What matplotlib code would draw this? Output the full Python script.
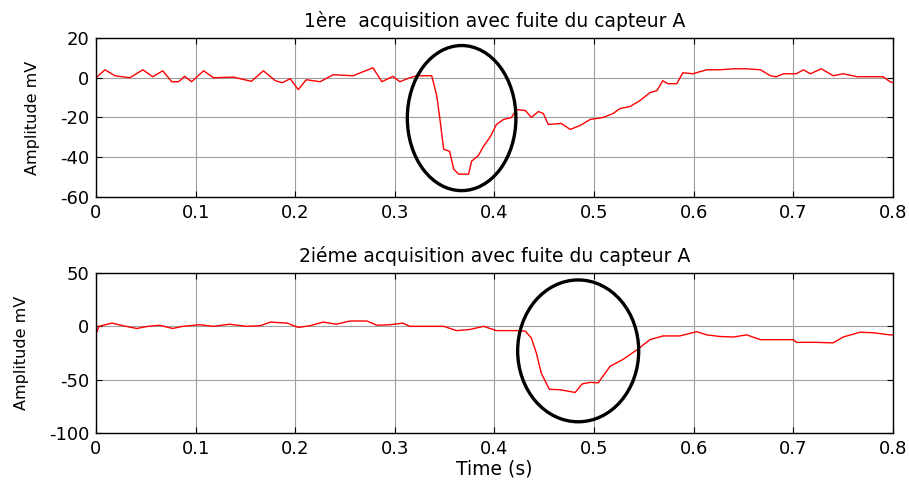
import matplotlib
matplotlib.use("Agg")
import matplotlib.pyplot as plt
from matplotlib.patches import Ellipse

# first acquisition, sensor A (time in s, amplitude in mV)
t1 = [0.000, 0.009, 0.019, 0.034, 0.047, 0.057, 0.067, 0.076, 0.083, 0.089,
      0.096, 0.108, 0.118, 0.138, 0.156, 0.168, 0.180, 0.187, 0.195, 0.203,
      0.211, 0.225, 0.238, 0.258, 0.278, 0.287, 0.298, 0.305, 0.315, 0.322,
      0.337, 0.342, 0.345, 0.349, 0.355, 0.359, 0.364, 0.374, 0.377, 0.384,
      0.389, 0.396, 0.402, 0.409, 0.417, 0.422, 0.431, 0.437, 0.444, 0.449,
      0.454, 0.467, 0.476, 0.486, 0.496, 0.509, 0.519, 0.526, 0.536, 0.546,
      0.556, 0.563, 0.569, 0.574, 0.583, 0.589, 0.599, 0.613, 0.626, 0.640,
      0.653, 0.667, 0.677, 0.683, 0.690, 0.703, 0.710, 0.717, 0.728, 0.740,
      0.750, 0.764, 0.777, 0.790, 0.797, 0.800]
a1 = [0.0, 4.0, 1.0, 0.0, 4.0, 0.5, 3.5, -2.0, -2.0, 0.7,
      -2.0, 3.5, 0.0, 0.3, -1.8, 3.5, -1.5, -2.5, -0.5, -6.0,
      -1.0, -2.0, 1.5, 1.0, 5.0, -2.0, 0.7, -2.0, 0.0, 1.0,
      1.0, -9.0, -20.0, -36.0, -37.0, -46.0, -48.5, -48.5, -42.0, -39.0,
      -34.5, -29.5, -23.5, -21.0, -20.0, -16.0, -16.5, -20.0, -17.0, -18.0,
      -23.5, -23.0, -26.0, -24.0, -21.0, -20.0, -18.0, -15.5, -14.5, -11.5,
      -7.5, -6.5, -1.5, -3.0, -3.0, 2.5, 2.0, 4.0, 4.0, 4.5,
      4.5, 4.0, 1.0, 0.5, 2.0, 2.0, 4.0, 2.0, 4.5, 1.0,
      2.0, 0.5, 0.5, 0.5, -2.0, -2.5]

# second acquisition, sensor A
t2 = [0.000, 0.003, 0.016, 0.027, 0.041, 0.052, 0.064, 0.077, 0.087, 0.104,
      0.118, 0.134, 0.151, 0.165, 0.175, 0.192, 0.203, 0.215, 0.228, 0.241,
      0.255, 0.272, 0.282, 0.295, 0.308, 0.315, 0.349, 0.362, 0.375, 0.389,
      0.402, 0.422, 0.431, 0.437, 0.442, 0.447, 0.455, 0.466, 0.481, 0.488,
      0.496, 0.504, 0.516, 0.529, 0.543, 0.556, 0.569, 0.586, 0.603, 0.613,
      0.626, 0.640, 0.653, 0.667, 0.683, 0.700, 0.703, 0.723, 0.740, 0.750,
      0.767, 0.780, 0.797, 0.800]
a2 = [-7.0, 0.0, 3.0, 0.6, -2.0, 0.0, 1.0, -2.0, 0.0, 1.5,
      0.0, 2.0, 0.0, 0.6, 4.0, 3.0, -1.0, 0.6, 4.0, 2.0,
      5.0, 5.0, 1.0, 1.5, 3.0, 0.0, 0.0, -4.0, -3.0, 0.0,
      -4.0, -4.0, -4.5, -11.0, -25.0, -44.0, -59.0, -59.5, -62.0, -54.0,
      -52.5, -53.0, -37.5, -31.0, -22.0, -12.5, -9.0, -9.0, -5.0, -8.0,
      -9.5, -10.0, -8.0, -12.5, -12.5, -12.5, -15.0, -15.0, -15.5, -10.0,
      -5.5, -6.0, -8.0, -8.0]

titles = ["1ère  acquisition avec fuite du capteur A",
          "2iéme acquisition avec fuite du capteur A"]
yticks = [[-60, -40, -20, 0, 20], [-100, -50, 0, 50]]
ylims = [(-60, 20), (-100, 50)]
xticks = [0, 0.1, 0.2, 0.3, 0.4, 0.5, 0.6, 0.7, 0.8]

# leak zones circled on each record: (t centre, mV centre, width s, height mV)
zones = [(0.367, -20.3, 0.109, 73.0), (0.484, -23.0, 0.1215, 133.0)]

plt.rcParams['font.family'] = ['DejaVu Sans']

fig = plt.figure(figsize=(9.09, 4.87), dpi=100)
ax1 = fig.add_axes([0.1056, 0.5955, 0.8768, 0.3265])
ax2 = fig.add_axes([0.1056, 0.1109, 0.8768, 0.3285])

for ax, t, a, title, yt, yl, zone in zip([ax1, ax2], [t1, t2], [a1, a2],
                                          titles, yticks, ylims, zones):
    ax.plot(t, a, color='#ff0000', lw=1.0)
    ax.set_xlim(0, 0.8)
    ax.set_ylim(*yl)
    ax.set_xticks(xticks)
    ax.set_xticklabels(['0', '0.1', '0.2', '0.3', '0.4', '0.5', '0.6', '0.7', '0.8'])
    ax.set_yticks(yt)
    ax.set_yticklabels([str(v) for v in yt])
    ax.grid(True, color='#a0a0a0', lw=0.8)
    ax.tick_params(direction='in', top=True, right=True, length=4, width=0.8,
                   labelsize=13, pad=5)
    for s in ax.spines.values():
        s.set_linewidth(1.0)
        s.set_color('black')
    ax.set_title(title, fontsize=13.5, pad=8)
    ax.set_ylabel('Amplitude mV', fontsize=11.5, labelpad=14)
    ax.add_patch(Ellipse((zone[0], zone[1]), zone[2], zone[3], fill=False,
                         edgecolor='black', lw=2.4, zorder=5))

ax2.set_xlabel('Time (s)', fontsize=13.5, labelpad=1)

fig.savefig('out.png', dpi=100)
